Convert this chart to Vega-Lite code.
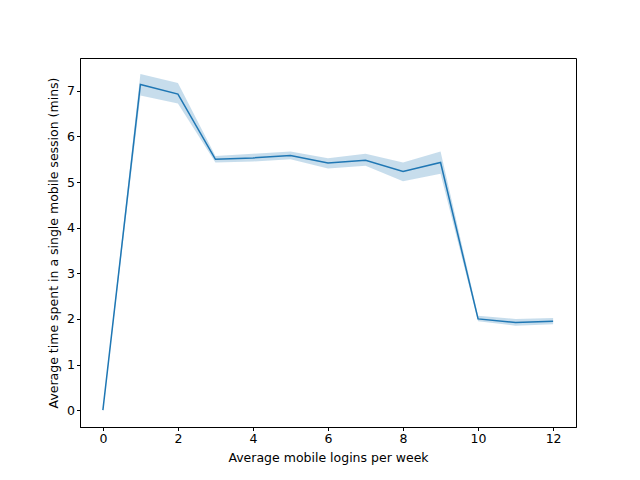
{
  "$schema": "https://vega.github.io/schema/vega-lite/v6.json",
  "width": 496,
  "height": 369,
  "autosize": "none",
  "padding": {"left": 80, "top": 58, "right": 64, "bottom": 53},
  "background": "white",
  "data": {
    "values": [
      {"logins": 0, "mins": 0, "lo": 0, "hi": 0},
      {"logins": 1, "mins": 7.14, "lo": 6.9, "hi": 7.37},
      {"logins": 2, "mins": 6.93, "lo": 6.72, "hi": 7.17},
      {"logins": 3, "mins": 5.5, "lo": 5.43, "hi": 5.57},
      {"logins": 4, "mins": 5.53, "lo": 5.45, "hi": 5.62},
      {"logins": 5, "mins": 5.58, "lo": 5.5, "hi": 5.67},
      {"logins": 6, "mins": 5.42, "lo": 5.3, "hi": 5.52},
      {"logins": 7, "mins": 5.48, "lo": 5.36, "hi": 5.62},
      {"logins": 8, "mins": 5.23, "lo": 5.02, "hi": 5.43},
      {"logins": 9, "mins": 5.43, "lo": 5.18, "hi": 5.67},
      {"logins": 10, "mins": 2.0, "lo": 1.95, "hi": 2.07},
      {"logins": 11, "mins": 1.92, "lo": 1.85, "hi": 2.0},
      {"logins": 12, "mins": 1.95, "lo": 1.88, "hi": 2.02}
    ]
  },
  "encoding": {
    "x": {
      "field": "logins",
      "type": "quantitative",
      "scale": {"domain": [-0.61, 12.61], "nice": false, "zero": false},
      "axis": {"values": [0, 2, 4, 6, 8, 10, 12], "title": "Average mobile logins per week"}
    }
  },
  "layer": [
    {
      "mark": {"type": "area", "color": "#1f77b4", "opacity": 0.25},
      "encoding": {
        "y": {"field": "lo", "type": "quantitative"},
        "y2": {"field": "hi"}
      }
    },
    {
      "mark": {"type": "line", "color": "#1f77b4", "strokeWidth": 1.5},
      "encoding": {
        "y": {
          "field": "mins",
          "type": "quantitative",
          "scale": {"domain": [-0.37, 7.72], "nice": false, "zero": false},
          "axis": {"values": [0, 1, 2, 3, 4, 5, 6, 7], "title": "Average time spent in a single mobile session (mins)"}
        }
      }
    }
  ],
  "config": {
    "view": {"stroke": "black", "strokeWidth": 1},
    "axis": {
      "grid": false,
      "domainColor": "black",
      "tickColor": "black",
      "tickSize": 3.5,
      "labelFont": "DejaVu Sans",
      "labelFontSize": 12.5,
      "labelColor": "black",
      "titleFont": "DejaVu Sans",
      "titleFontSize": 12.5,
      "titleFontWeight": "normal",
      "titleColor": "black",
      "titlePadding": 6
    }
  }
}
